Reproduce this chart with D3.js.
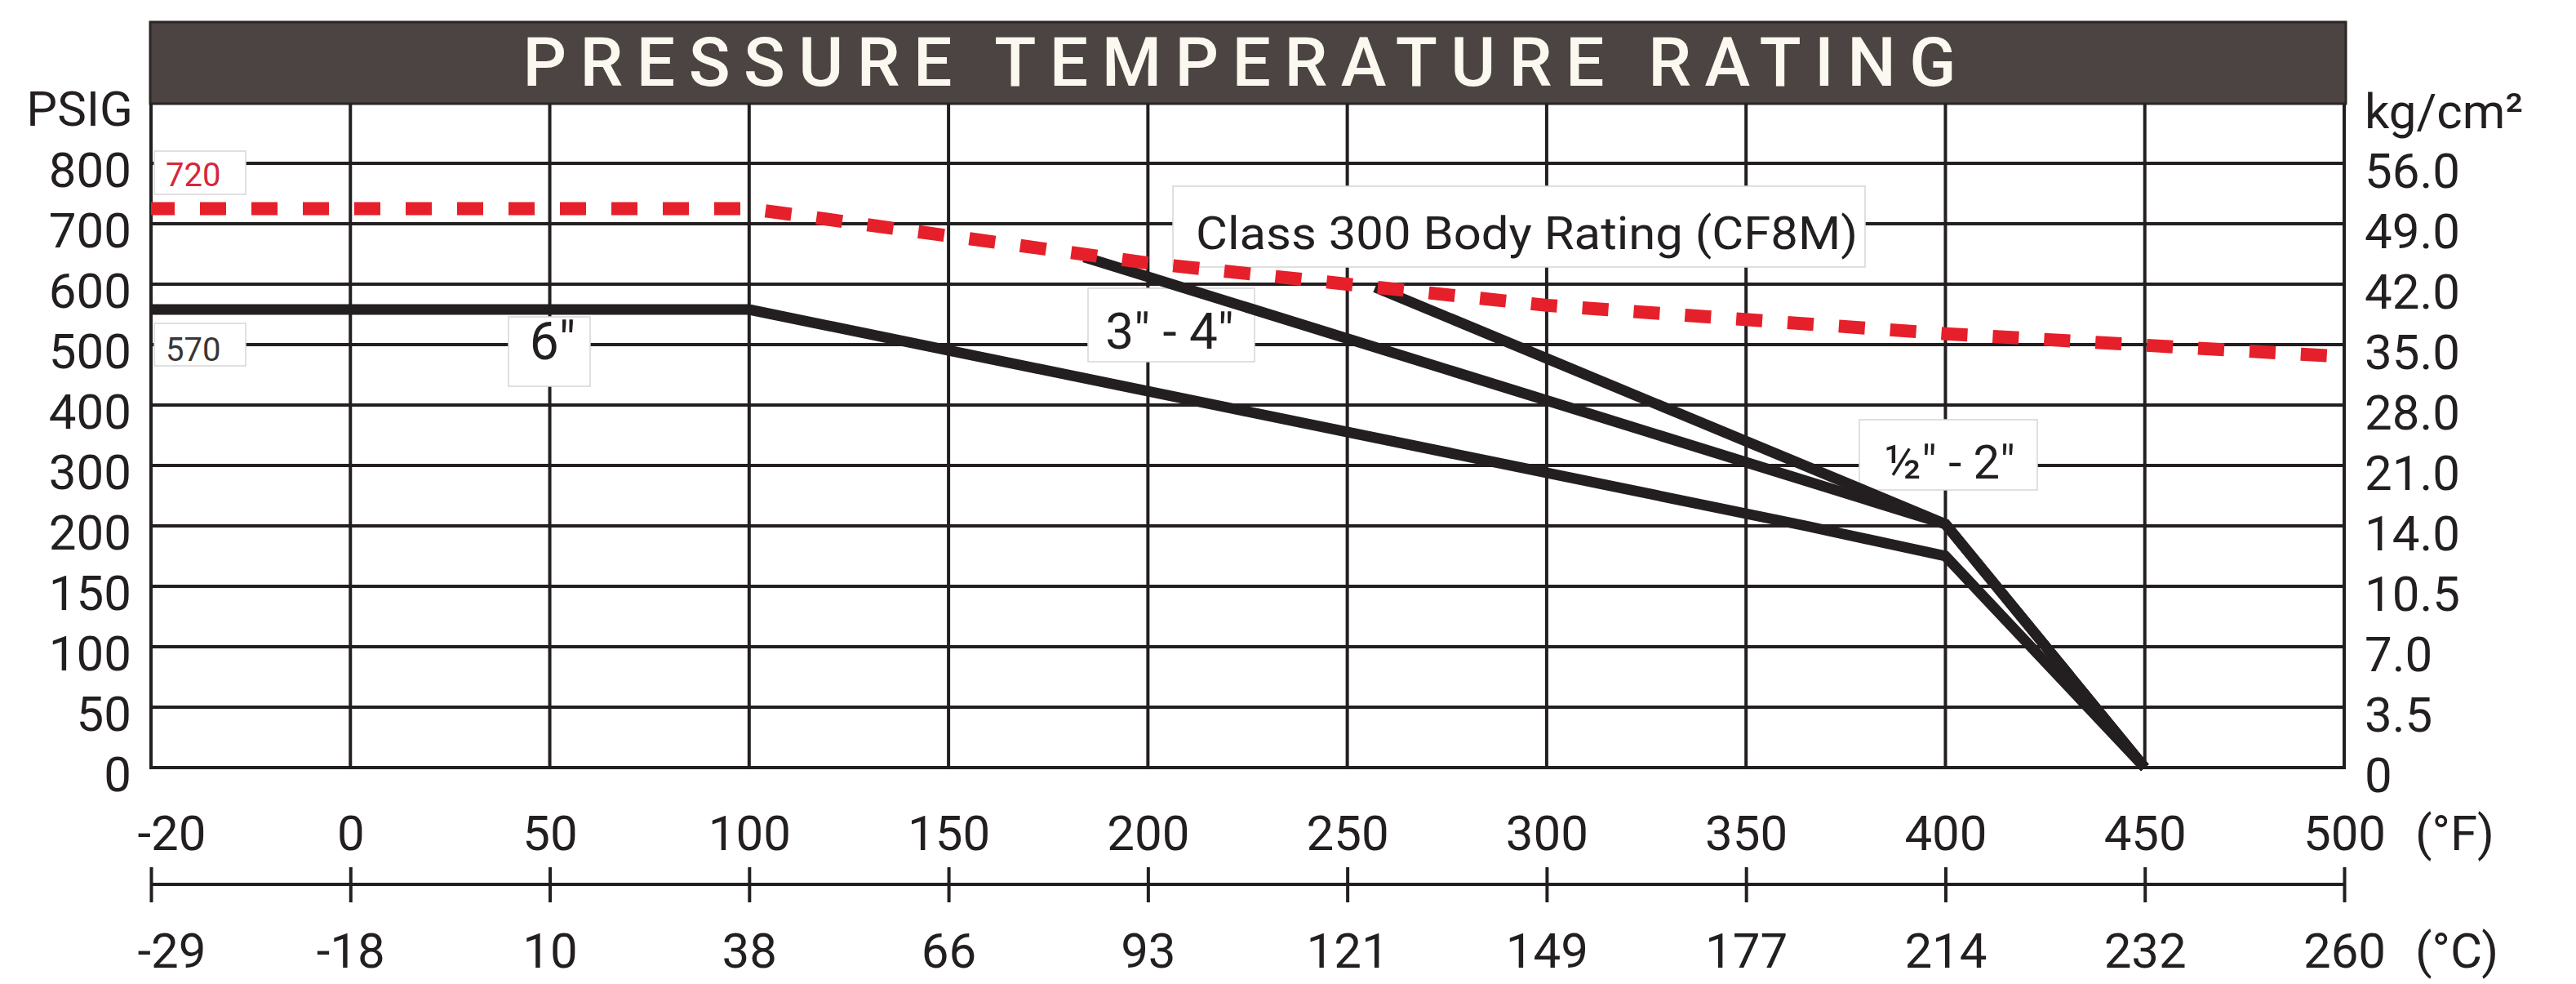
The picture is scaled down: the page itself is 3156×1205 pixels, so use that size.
<!DOCTYPE html>
<html>
<head>
<meta charset="utf-8">
<script src="https://cdn.jsdelivr.net/npm/d3@7"></script>
<style>
  html, body { margin: 0; padding: 0; background: #ffffff; }
  svg { display: block; }
  text { font-family: Roboto, "Open Sans", sans-serif; }
</style>
</head>
<body>
<svg id="chart" width="3156" height="1205"></svg>
<script>
// ---------------- DATA ----------------
const title = "PRESSURE TEMPERATURE RATING";
const fTicks = [-20, 0, 50, 100, 150, 200, 250, 300, 350, 400, 450, 500];
const cTickLabels = ["-29", "-18", "10", "38", "66", "93", "121", "149", "177", "214", "232", "260"];
const psiTicks = [0, 50, 100, 150, 200, 300, 400, 500, 600, 700, 800];
const kgTicks = [0, 3.5, 7, 10.5, 14, 21, 28, 35, 42, 49, 56];

// Class 300 body rating (CF8M) - red dashed
const bodyTempF = [-20, 100, 200, 300, 400, 500];
const bodyPsi   = [725, 725, 635, 565, 518, 480];
// 6" valve seat rating
const sixTempF = [-20, 100, 365, 400, 450];
const sixPsi   = [558, 558, 200, 175, 0];
// 3" - 4" valve seat rating
const threeFourTempF = [184, 400, 450];
const threeFourPsi   = [645, 203, 0];
// 1/2" - 2" valve seat rating
const halfTwoTempF = [257, 400, 450];
const halfTwoPsi   = [595, 203, 0];

const labelTexts = ["720", "570", "6\"", "3\" - 4\"", "Class 300 Body Rating (CF8M)", "½\" - 2\""];

// ---------------- LAYOUT ----------------
const W = 3156, H = 1205;
const plotL = 185, plotR = 2872, plotTop = 127, plotBottom = 940;
const step = (plotR - plotL) / 11;
const ink = "#231f20";

const svg = d3.select("#chart");

// Scales (equal spacing of non-uniform tick values -> polylinear scales)
const x = d3.scaleLinear().domain([-20, 0, 500]).range([plotL, plotL + step, plotR]);
const xC = d3.scalePoint().domain(cTickLabels).range([plotL, plotR]).padding(0);
const y = d3.scaleLinear().domain([0, 200, 800]).range([plotBottom, 644, 200]);
const yKg = d3.scaleLinear().domain([0, 14, 56]).range([plotBottom, 644, 200]);

// Header
svg.append("rect")
  .attr("x", plotL - 1).attr("y", 27)
  .attr("width", plotR - plotL + 3).attr("height", plotTop - 27)
  .attr("fill", "#4b4442").attr("stroke", "#2b2523").attr("stroke-width", 3);
svg.append("text")
  .attr("x", (plotL + plotR) / 2 - 10).attr("y", 105)
  .attr("text-anchor", "middle")
  .attr("font-size", 84).attr("font-weight", 500)
  .attr("fill", "#fbf8f0")
  .attr("textLength", 1756).attr("lengthAdjust", "spacing")
  .text(title);

// Grid
const grid = svg.append("g").attr("stroke", ink).attr("stroke-width", 4);
grid.selectAll("line.h").data(psiTicks).join("line")
  .attr("class", "h")
  .attr("x1", plotL).attr("x2", plotR)
  .attr("y1", d => y(d)).attr("y2", d => y(d));
grid.selectAll("line.v").data(fTicks).join("line")
  .attr("class", "v")
  .attr("x1", d => x(d)).attr("x2", d => x(d))
  .attr("y1", plotTop).attr("y2", plotBottom + 2);

// Left axis (PSIG)
const leftAxis = svg.append("g")
  .attr("transform", `translate(${plotL},0)`)
  .call(d3.axisLeft(y).tickValues(psiTicks).tickSize(0).tickPadding(24).tickFormat(d => String(d)));
leftAxis.select(".domain").remove();
leftAxis.selectAll("text")
  .attr("font-size", 60).attr("fill", ink)
  .attr("font-family", "Roboto").attr("dy", 28);
svg.append("text").attr("x", 163).attr("y", 154)
  .attr("text-anchor", "end").attr("font-size", 60).attr("fill", ink).text("PSIG");

// Right axis (kg/cm²)
const rightAxis = svg.append("g")
  .attr("transform", `translate(${plotR},0)`)
  .call(d3.axisRight(yKg).tickValues(kgTicks).tickSize(0).tickPadding(25)
    .tickFormat(d => d === 0 ? "0" : d.toFixed(1)));
rightAxis.select(".domain").remove();
rightAxis.selectAll("text")
  .attr("font-size", 60).attr("fill", ink)
  .attr("font-family", "Roboto").attr("dy", 29);
svg.append("text").attr("x", 2897).attr("y", 157)
  .attr("font-size", 60).attr("fill", ink).text("kg/cm²");

// Bottom axis (°F)
const fAxis = svg.append("g")
  .attr("transform", `translate(0,${plotBottom})`)
  .call(d3.axisBottom(x).tickValues(fTicks).tickSize(0).tickPadding(0).tickFormat(d => String(d)));
fAxis.select(".domain").remove();
fAxis.selectAll("text")
  .attr("font-size", 60).attr("fill", ink).attr("font-family", "Roboto")
  .attr("y", 101).attr("dy", 0)
  .attr("dx", (d, i) => i === 0 ? 25 : 0);
svg.append("text").attr("x", 2959).attr("y", 1041)
  .attr("font-size", 60).attr("fill", ink).text("(°F)");

// Celsius axis
const cAxis = svg.append("g")
  .attr("transform", `translate(0,1083)`)
  .call(d3.axisBottom(xC).tickSize(0).tickPadding(0));
cAxis.select(".domain").attr("stroke", ink).attr("stroke-width", 4)
  .attr("d", `M${plotL},0H${plotR}`);
cAxis.selectAll(".tick line").attr("stroke", ink).attr("stroke-width", 4)
  .attr("y1", -21).attr("y2", 22);
cAxis.selectAll("text")
  .attr("font-size", 60).attr("fill", ink).attr("font-family", "Roboto")
  .attr("y", 102).attr("dy", 0)
  .attr("dx", (d, i) => i === 0 ? 25 : 0);
svg.append("text").attr("x", 2959).attr("y", 1185)
  .attr("font-size", 60).attr("fill", ink).text("(°C)");

// Annotation boxes (pixel layout)
const boxLayout = [
  { cx: 245,  cy: 211.5, w: 112, h: 53, tx: 203,  ty: 228, size: 40, anchor: "start", color: "#d8263a" },
  { cx: 245,  cy: 422,   w: 112, h: 52, tx: 203,  ty: 442, size: 40, anchor: "start", color: "#3a3536" },
  { cx: 673,  cy: 430.5, w: 100, h: 85, tx: 677,  ty: 440, size: 64, anchor: "middle", color: ink },
  { cx: 1435, cy: 398,   w: 204, h: 90, tx: 1433, ty: 427, size: 62, anchor: "middle", color: ink },
  { cx: 1861, cy: 277.5, w: 848, h: 99, tx: 1465, ty: 305, size: 56, anchor: "start", color: ink, len: 811 },
  { cx: 2387, cy: 557,   w: 218, h: 86, tx: 2389, ty: 586, size: 58, anchor: "middle", color: ink }
];
const boxes = svg.append("g");
boxLayout.forEach((b, i) => {
  boxes.append("rect")
    .attr("x", b.cx - b.w / 2).attr("y", b.cy - b.h / 2)
    .attr("width", b.w).attr("height", b.h)
    .attr("fill", "#ffffff").attr("stroke", "#d6d6d6").attr("stroke-width", 1.5);
  const t = boxes.append("text")
    .attr("x", b.tx).attr("y", b.ty)
    .attr("text-anchor", b.anchor)
    .attr("font-size", b.size).attr("fill", b.color)
    .text(labelTexts[i]);
  if (b.len) t.attr("textLength", b.len).attr("lengthAdjust", "spacingAndGlyphs");
});

// Series lines
const line = d3.line().x(d => x(d[0])).y(d => y(d[1]));
const seatSeries = [
  d3.zip(sixTempF, sixPsi),
  d3.zip(threeFourTempF, threeFourPsi),
  d3.zip(halfTwoTempF, halfTwoPsi)
];
svg.append("g").selectAll("path").data(seatSeries).join("path")
  .attr("d", line)
  .attr("fill", "none").attr("stroke", ink).attr("stroke-width", 13)
  .attr("stroke-linejoin", "miter").attr("stroke-linecap", "butt");

svg.append("path")
  .datum(d3.zip(bodyTempF, bodyPsi))
  .attr("d", line)
  .attr("fill", "none").attr("stroke", "#e5202a").attr("stroke-width", 16)
  .attr("stroke-dasharray", "32 31").attr("stroke-dashoffset", 3);
</script>
</body>
</html>
